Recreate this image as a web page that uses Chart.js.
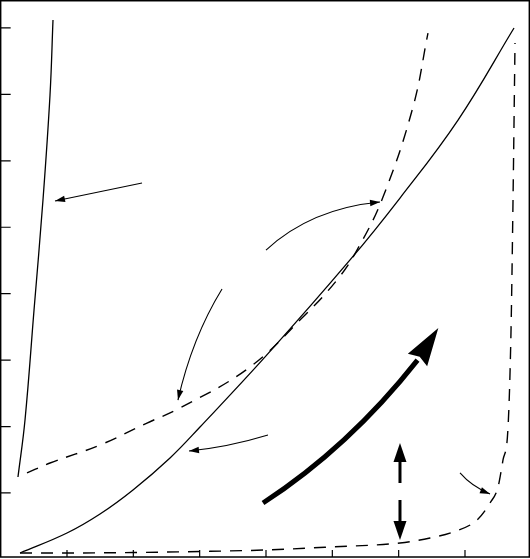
<!DOCTYPE html>
<html>
<head>
<meta charset="utf-8">
<script src="https://cdn.jsdelivr.net/npm/chart.js@4/dist/chart.umd.min.js"></script>
<style>
  html, body { margin: 0; padding: 0; background: #fff; }
  #chart { display: block; }
</style>
</head>
<body>
<canvas id="chart" width="530" height="559"></canvas>
<script>
// Curve data (axis units: 1 tick = 1 unit)
const steepX = [0.261, 0.367, 0.503, 0.638, 0.744, 0.789];
const steepY = [1.240, 2.099, 3.755, 5.410, 6.991, 8.120];

const mainX = [0.292, 1.0, 1.498, 1.995, 2.553, 3.005, 4.0, 5.267, 6.020, 6.895, 7.739];
const mainY = [0.096, 0.397, 0.683, 1.045, 1.527, 1.993, 3.063, 4.508, 5.440, 6.614, 8.0];

const dashMidX = [0.397, 0.744, 1.498, 2.206, 2.704, 3.759, 4.558, 5.071, 5.372, 5.764, 6.216, 6.442];
const dashMidY = [1.301, 1.451, 1.722, 2.053, 2.279, 2.896, 3.649, 4.207, 4.657, 5.455, 6.810, 7.924];

const dashLowX = [0.292, 1.0, 1.995, 3.005, 4.0, 4.965, 6.020, 6.473, 6.819, 7.181, 7.377, 7.498, 7.573, 7.649, 7.694, 7.724, 7.754];
const dashLowY = [0.096, 0.096, 0.104, 0.119, 0.142, 0.187, 0.247, 0.322, 0.412, 0.593, 0.849, 1.090, 1.497, 1.993, 3.453, 5.410, 7.773];

// Axis ticks (no labels in the reference)
const xTicks = [1, 2, 3, 4, 5, 6, 7];
const yTicks = [1, 2, 3, 4, 5, 6, 7, 8];
const frameX = [0, 7.97];
const frameY = [0.036, 8.41];

// Annotation arrows, in axis units
const thinArrows = [
  { from: [2.131, 5.666], to: [0.819, 5.395] },
  { from: [4.0, 4.657], ctrl: [4.679, 5.282], to: [5.719, 5.380] },
  { from: [3.337, 4.071], ctrl: [2.884, 3.333], to: [2.673, 2.399] },
  { from: [4.030, 1.873], ctrl: [3.435, 1.692], to: [2.839, 1.632] },
  { from: [6.925, 1.301], ctrl: [7.101, 1.097], to: [7.377, 0.985] },
];
const bigArrow = { from: [3.955, 0.849], ctrl: [5.247, 1.688], to: [6.284, 3.0], tip: [6.598, 3.483] };
const doubleArrow = { x: 6.020, top: 1.753, bottom: 0.292 };

const toPts = (xs, ys) => xs.map((x, i) => ({ x, y: ys[i] }));

function lineSet(xs, ys, dashed, monotone) {
  return {
    data: toPts(xs, ys),
    showLine: true,
    borderColor: '#000',
    borderWidth: dashed ? 1.4 : 1.3,
    borderDash: dashed ? [12, 9] : [],
    pointRadius: 0,
    tension: 0.4,
    cubicInterpolationMode: monotone ? 'monotone' : 'default',
    fill: false,
  };
}

function head(ctx, tx, ty, fx, fy, len, half) {
  const a = Math.atan2(ty - fy, tx - fx);
  const c = Math.cos(a), s = Math.sin(a);
  ctx.beginPath();
  ctx.moveTo(tx, ty);
  ctx.lineTo(tx - len * c - half * s, ty - len * s + half * c);
  ctx.lineTo(tx - len * c + half * s, ty - len * s - half * c);
  ctx.closePath();
  ctx.fill();
}

const decorations = {
  id: 'decorations',
  afterDatasetsDraw(chart) {
    const { ctx } = chart;
    const sx = (v) => chart.scales.x.getPixelForValue(v);
    const sy = (v) => chart.scales.y.getPixelForValue(v);
    ctx.save();
    ctx.strokeStyle = '#000';
    ctx.fillStyle = '#000';
    ctx.setLineDash([]);

    // frame
    const l = sx(frameX[0]), r = sx(frameX[1]), t = sy(frameY[1]), b = sy(frameY[0]);
    ctx.lineWidth = 1.5;
    ctx.strokeRect(l, t, r - l, b - t);

    // inward ticks
    ctx.lineWidth = 1.2;
    ctx.beginPath();
    yTicks.forEach((v) => { ctx.moveTo(l, sy(v)); ctx.lineTo(l + 10, sy(v)); });
    xTicks.forEach((v) => { ctx.moveTo(sx(v), b); ctx.lineTo(sx(v), b - 7); });
    ctx.stroke();

    // thin arrows
    ctx.lineWidth = 1.1;
    thinArrows.forEach((a) => {
      const p0 = [sx(a.from[0]), sy(a.from[1])];
      const p2 = [sx(a.to[0]), sy(a.to[1])];
      const c = a.ctrl ? [sx(a.ctrl[0]), sy(a.ctrl[1])] : p0;
      ctx.beginPath();
      ctx.moveTo(p0[0], p0[1]);
      if (a.ctrl) ctx.quadraticCurveTo(c[0], c[1], p2[0], p2[1]);
      else ctx.lineTo(p2[0], p2[1]);
      ctx.stroke();
      head(ctx, p2[0], p2[1], c[0], c[1], 10, 3.2);
    });

    // big thick curved arrow
    const b0 = [sx(bigArrow.from[0]), sy(bigArrow.from[1])];
    const bc = [sx(bigArrow.ctrl[0]), sy(bigArrow.ctrl[1])];
    const b2 = [sx(bigArrow.to[0]), sy(bigArrow.to[1])];
    const bt = [sx(bigArrow.tip[0]), sy(bigArrow.tip[1])];
    ctx.lineWidth = 5;
    ctx.lineCap = 'butt';
    ctx.beginPath();
    ctx.moveTo(b0[0], b0[1]);
    ctx.quadraticCurveTo(bc[0], bc[1], b2[0], b2[1]);
    ctx.stroke();
    {
      const dx = bt[0] - b2[0], dy = bt[1] - b2[1];
      const len = Math.hypot(dx, dy);
      const ux = dx / len, uy = dy / len;
      const px = -uy, py = ux;
      ctx.beginPath();
      ctx.moveTo(bt[0], bt[1]);
      ctx.lineTo(b2[0] + px * 11.5, b2[1] + py * 11.5);
      ctx.lineTo(b2[0] + ux * 4, b2[1] + uy * 4);
      ctx.lineTo(b2[0] - px * 11.5, b2[1] - py * 11.5);
      ctx.closePath();
      ctx.fill();
    }

    // vertical double arrow with broken shaft
    const dx0 = sx(doubleArrow.x);
    const dTop = sy(doubleArrow.top), dBot = sy(doubleArrow.bottom);
    ctx.lineWidth = 3;
    ctx.setLineDash([21, 17]);
    ctx.beginPath();
    ctx.moveTo(dx0, dTop + 19);
    ctx.lineTo(dx0, dBot - 19);
    ctx.stroke();
    ctx.setLineDash([]);
    head(ctx, dx0, dTop, dx0, dTop + 30, 19, 6.5);
    head(ctx, dx0, dBot, dx0, dBot - 30, 19, 6.5);

    ctx.restore();
  },
};

new Chart(document.getElementById('chart'), {
  type: 'scatter',
  data: {
    datasets: [
      lineSet(steepX, steepY, false, false),
      lineSet(mainX, mainY, false, false),
      lineSet(dashMidX, dashMidY, true, false),
      lineSet(dashLowX, dashLowY, true, true),
    ],
  },
  options: {
    responsive: false,
    animation: false,
    layout: { padding: 0 },
    scales: {
      x: { type: 'linear', min: -0.01, max: 7.98, display: false },
      y: { type: 'linear', min: 0.006, max: 8.421, display: false },
    },
    plugins: {
      legend: { display: false },
      tooltip: { enabled: false },
    },
  },
  plugins: [decorations],
});
</script>
</body>
</html>
